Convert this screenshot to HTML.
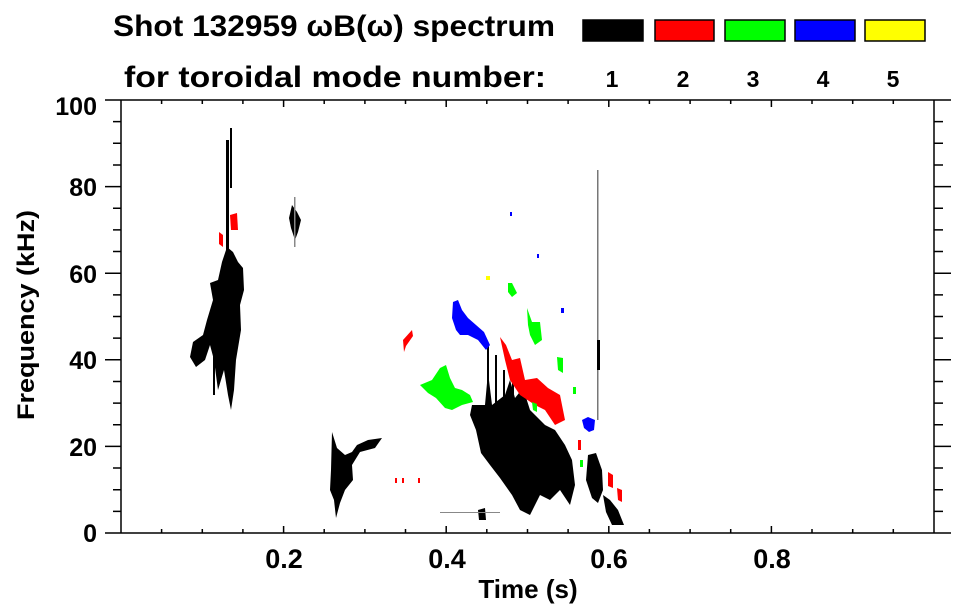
<!DOCTYPE html>
<html><head><meta charset="utf-8"><style>
html,body{margin:0;padding:0;background:#fff;}
svg{display:block;font-family:"Liberation Sans",sans-serif;font-weight:bold;}
</style></head><body>
<svg width="963" height="615" viewBox="0 0 963 615" xmlns="http://www.w3.org/2000/svg">
<text x="113" y="36" font-size="30" textLength="442" lengthAdjust="spacingAndGlyphs">Shot 132959 ωB(ω) spectrum</text>
<text x="124" y="87" font-size="30" textLength="422" lengthAdjust="spacingAndGlyphs">for toroidal mode number:</text>
<g stroke="#000" stroke-width="1.5">
<rect x="583" y="20" width="60" height="21" fill="#000"/>
<rect x="655" y="20" width="59" height="21" fill="#f00"/>
<rect x="725" y="20" width="60" height="21" fill="#0f0"/>
<rect x="795" y="20" width="60" height="21" fill="#00f"/>
<rect x="865" y="20" width="60" height="21" fill="#ff0"/>
</g>
<g font-size="23" text-anchor="middle">
<text x="612" y="87">1</text><text x="683" y="87">2</text><text x="753" y="87">3</text><text x="823" y="87">4</text><text x="893" y="87">5</text>
</g>

<!-- data -->
<g fill="#000">
<polygon points="227,247 233,252 238,262 243,268 244,290 240,305 241,330 236,360 234,390 231,410 228,395 224,370 218,390 214,360 210,345 205,360 196,367 190,357 193,342 203,335 207,320 213,300 210,283 218,280 222,262"/>
<rect x="226" y="140" width="3" height="110"/>
<rect x="230" y="128" width="2" height="60"/>
<rect x="213" y="330" width="2" height="65"/>
<polygon points="292,205 297,212 301,220 298,232 295,240 291,228 289,218"/>
<rect x="294" y="197" width="1.5" height="50" fill="#888"/>
<polygon points="332,432 337,448 345,455 352,452 357,445 368,440 382,438 375,448 360,452 352,465 353,480 345,490 340,503 336,518 334,500 330,490 331,470"/>
<polygon points="472,405 485,405 488,372 492,405 505,395 510,380 515,398 523,388 530,410 545,425 555,430 565,445 572,460 575,485 570,505 560,490 550,500 540,495 530,515 520,510 512,495 500,478 490,465 481,453 476,430 470,415"/>
<rect x="487" y="345" width="2" height="60"/><rect x="495" y="355" width="2" height="50"/>
<rect x="503" y="370" width="2" height="35"/><rect x="512" y="360" width="2" height="40"/>
<rect x="520" y="375" width="2" height="25"/>
<polygon points="588,455 596,453 602,470 603,490 598,503 592,498 586,480"/>
<polygon points="603,495 610,500 618,510 624,525 612,525 606,512"/>
<rect x="597" y="170" width="1.5" height="250" fill="#777"/>
<rect x="597" y="340" width="3" height="30"/>
<polygon points="478,510 485,508 486,520 479,520"/>
<rect x="440" y="512" width="60" height="1" fill="#888"/>
</g>
<g fill="#f00">
<polygon points="230,215 237,213 238,230 231,230"/>
<polygon points="219,232 223,235 223,247 219,244"/>
<polygon points="403,340 412,330 413,336 406,346 404,352"/>
<polygon points="500,337 506,345 512,360 520,358 525,380 537,378 548,388 560,395 565,420 555,425 545,410 535,405 520,395 510,380 505,360"/>
<polygon points="608,472 613,475 613,488 608,486"/>
<polygon points="617,488 622,490 622,502 618,500"/>
<rect x="578" y="440" width="3" height="10"/>
<rect x="395" y="478" width="2" height="5"/><rect x="402" y="478" width="2" height="5"/><rect x="418" y="478" width="2" height="5"/>
</g>
<g fill="#0f0">
<polygon points="420,385 432,380 440,368 446,365 450,378 455,388 462,390 470,395 473,402 462,405 452,410 445,408 436,398 428,393"/>
<polygon points="508,283 512,283 517,293 512,297 508,292"/>
<polygon points="527,308 532,322 540,322 542,340 535,345 530,335 528,325"/>
<polygon points="557,357 563,358 563,373 558,370"/>
<polygon points="532,402 537,404 537,412 533,410"/>
<rect x="573" y="387" width="3" height="7"/><rect x="580" y="460" width="3" height="7"/>
</g>
<g fill="#00f">
<polygon points="453,302 458,300 462,310 468,318 476,325 484,332 490,345 486,350 478,340 468,335 460,335 456,330 452,318"/>
<polygon points="582,420 588,417 595,420 594,430 589,432 584,428"/>
<rect x="561" y="308" width="3" height="5"/><rect x="510" y="212" width="2" height="4"/><rect x="537" y="254" width="2" height="4"/>
</g>
<rect x="486" y="276" width="4" height="4" fill="#ff0"/>

<!-- axes -->
<g stroke="#000" stroke-width="1.5" fill="none">
<line x1="121" y1="100" x2="121" y2="533"/>
<line x1="934" y1="100" x2="934" y2="533"/>
<line x1="105" y1="100" x2="951" y2="100"/>
<line x1="105" y1="533" x2="951" y2="533"/>
<path d="M105,446.4H121M105,359.8H121M105,273.2H121M105,186.6H121
M113,511.35H121M113,489.7H121M113,468.05H121M113,424.75H121M113,403.1H121M113,381.45H121M113,338.15H121M113,316.5H121M113,294.85H121M113,251.55H121M113,229.9H121M113,208.25H121M113,164.95H121M113,143.3H121M113,121.65H121
M934,446.4H951M934,359.8H951M934,273.2H951M934,186.6H951
M934,511.35H943M934,489.7H943M934,468.05H943M934,424.75H943M934,403.1H943M934,381.45H943M934,338.15H943M934,316.5H943M934,294.85H943M934,251.55H943M934,229.9H943M934,208.25H943M934,164.95H943M934,143.3H943M934,121.65H943"/>
<path d="M283.6,533V526M446.2,533V526M608.8,533V526M771.4,533V526
M283.6,100V107M446.2,100V107M608.8,100V107M771.4,100V107
M161.6,533V529M202.3,533V529M242.9,533V529M324.2,533V529M364.9,533V529M405.5,533V529M486.8,533V529M527.5,533V529M568.1,533V529M649.4,533V529M690.1,533V529M730.7,533V529M812,533V529M852.7,533V529M893.3,533V529
M161.6,100V104M202.3,100V104M242.9,100V104M324.2,100V104M364.9,100V104M405.5,100V104M486.8,100V104M527.5,100V104M568.1,100V104M649.4,100V104M690.1,100V104M730.7,100V104M812,100V104M852.7,100V104M893.3,100V104"/>
</g>
<g font-size="25" text-anchor="end">
<text x="97" y="115">100</text><text x="97" y="196">80</text><text x="97" y="283">60</text><text x="97" y="369">40</text><text x="97" y="456">20</text><text x="97" y="542">0</text>
</g>
<g font-size="27" text-anchor="middle">
<text x="284" y="568">0.2</text><text x="447" y="568">0.4</text><text x="609" y="568">0.6</text><text x="772" y="568">0.8</text>
<text x="528" y="598" font-size="26">Time (s)</text>
</g>
<text transform="translate(34,315) rotate(-90)" font-size="24" text-anchor="middle" textLength="210" lengthAdjust="spacingAndGlyphs">Frequency (kHz)</text>
</svg>
</body></html>
